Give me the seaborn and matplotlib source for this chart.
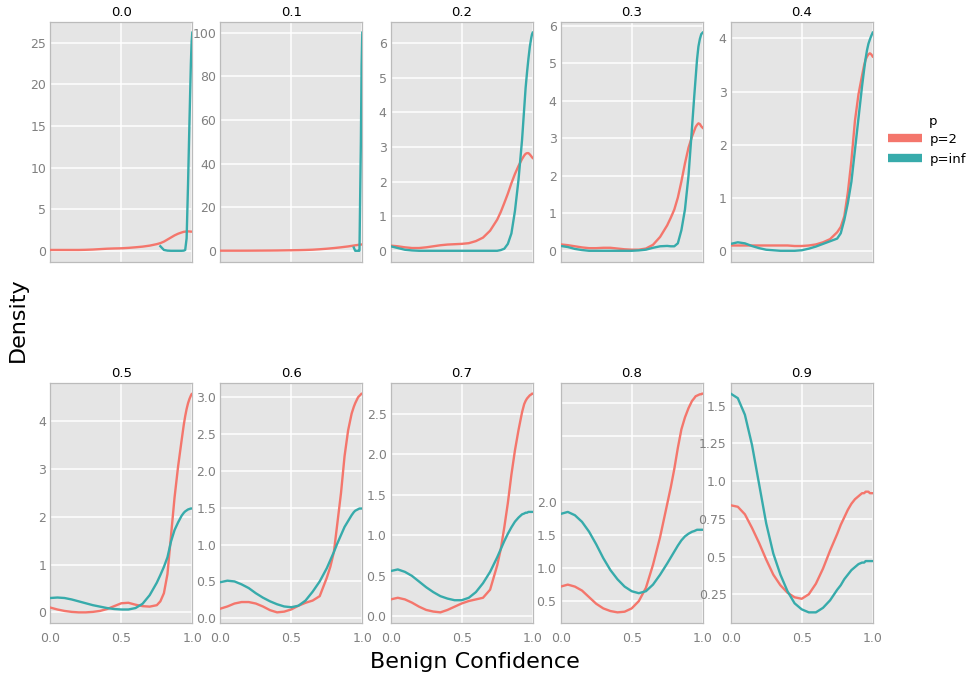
import numpy as np
import pandas as pd
import matplotlib
matplotlib.use("Agg")
import matplotlib.pyplot as plt
import seaborn as sns
from matplotlib.lines import Line2D

NaN = float("nan")

# ---- data (density vs benign confidence) ----
X = [0.0, 0.05, 0.1, 0.15, 0.2, 0.25, 0.3, 0.35, 0.4, 0.45, 0.5, 0.55, 0.6, 0.65,
     0.7, 0.75, 0.775, 0.8, 0.825, 0.85, 0.875, 0.9, 0.925, 0.94, 0.95, 0.96, 0.97,
     0.98, 0.99, 0.995, 1.0]

FACETS = ["0.0", "0.1", "0.2", "0.3", "0.4", "0.5", "0.6", "0.7", "0.8", "0.9"]
SERIES = ["p=2", "p=inf"]

P2_00 = [0.1, 0.1, 0.1, 0.1, 0.1, 0.12, 0.15, 0.2, 0.25, 0.28, 0.3, 0.35, 0.42, 0.5, 0.62,
         0.8, 0.92, 1.1, 1.35, 1.6, 1.85, 2.05, 2.2, 2.28, 2.3, 2.32, 2.33, 2.32, 2.3, 2.3, 2.3]
PINF_00 = [NaN] * 16 + [0.55, 0.1, 0.02, 0.0, 0.0, 0.0, 0.0, 0.02, 0.1, 1.5, 8.0, 15.5, 22.5, 25.0, 26.2]

P2_01 = [0.05, 0.05, 0.05, 0.05, 0.06, 0.08, 0.1, 0.12, 0.15, 0.2, 0.25, 0.3, 0.38, 0.5, 0.7,
         0.95, 1.1, 1.25, 1.42, 1.6, 1.8, 2.0, 2.25, 2.4, 2.5, 2.6, 2.7, 2.8, 2.85, 2.9, 2.9]
PINF_01 = [NaN] * 23 + [1.5, 0.0, 0.0, 0.0, 0.0, 50.0, 85.0, 100.0]

P2_02 = [0.15, 0.13, 0.1, 0.08, 0.08, 0.1, 0.13, 0.16, 0.18, 0.19, 0.2, 0.22, 0.28, 0.38, 0.58,
         0.9, 1.12, 1.38, 1.65, 1.95, 2.22, 2.45, 2.65, 2.75, 2.8, 2.82, 2.82, 2.78, 2.73, 2.7, 2.68]
PINF_02 = [0.13, 0.08, 0.03, 0.01, 0, 0, 0, 0, 0, 0, 0, 0, 0, 0, 0,
           0, 0.02, 0.06, 0.2, 0.5, 1.15, 2.05, 3.2, 4.1, 4.7, 5.15, 5.55, 5.9, 6.15, 6.25, 6.3]

P2_03 = [0.17, 0.15, 0.12, 0.09, 0.07, 0.07, 0.08, 0.08, 0.06, 0.04, 0.03, 0.03, 0.06, 0.16, 0.37,
         0.68, 0.88, 1.1, 1.42, 1.85, 2.33, 2.75, 3.05, 3.2, 3.3, 3.36, 3.4, 3.38, 3.32, 3.3, 3.28]
PINF_03 = [0.13, 0.1, 0.05, 0.02, 0, 0, 0, 0, 0, 0, 0, 0.01, 0.03, 0.08, 0.12,
           0.13, 0.12, 0.12, 0.2, 0.55, 1.1, 2.0, 3.3, 4.1, 4.6, 5.1, 5.45, 5.65, 5.78, 5.8, 5.82]

P2_04 = [0.1, 0.1, 0.1, 0.1, 0.1, 0.1, 0.1, 0.1, 0.1, 0.09, 0.09, 0.1, 0.12, 0.16, 0.22,
         0.35, 0.45, 0.65, 1.1, 1.7, 2.45, 2.95, 3.3, 3.5, 3.6, 3.66, 3.7, 3.72, 3.7, 3.68, 3.66]
PINF_04 = [0.13, 0.16, 0.14, 0.09, 0.05, 0.02, 0.01, 0, 0, 0, 0.01, 0.04, 0.08, 0.13, 0.18,
           0.23, 0.33, 0.58, 0.9, 1.3, 1.9, 2.5, 3.1, 3.42, 3.62, 3.78, 3.9, 3.98, 4.05, 4.08, 4.11]

P2_05 = [0.1, 0.06, 0.03, 0.01, 0, 0, 0.01, 0.03, 0.07, 0.13, 0.19, 0.2, 0.16, 0.13, 0.12,
         0.15, 0.23, 0.4, 0.8, 1.6, 2.4, 3.05, 3.6, 3.92, 4.1, 4.25, 4.37, 4.46, 4.53, 4.56, 4.57]
PINF_05 = [0.3, 0.31, 0.3, 0.27, 0.23, 0.19, 0.15, 0.12, 0.09, 0.07, 0.06, 0.06, 0.09, 0.18, 0.36,
           0.62, 0.78, 0.95, 1.15, 1.48, 1.72, 1.88, 2.02, 2.08, 2.11, 2.13, 2.15, 2.16, 2.17, 2.17, 2.17]

P2_06 = [0.13, 0.16, 0.2, 0.22, 0.22, 0.2, 0.16, 0.11, 0.08, 0.09, 0.12, 0.17, 0.21, 0.24, 0.3,
         0.55, 0.7, 0.9, 1.3, 1.7, 2.2, 2.55, 2.78, 2.87, 2.92, 2.96, 3.0, 3.02, 3.04, 3.05, 3.05]
PINF_06 = [0.49, 0.51, 0.5, 0.46, 0.41, 0.34, 0.28, 0.23, 0.19, 0.16, 0.15, 0.17, 0.24, 0.36, 0.5,
           0.68, 0.79, 0.9, 1.02, 1.13, 1.24, 1.32, 1.4, 1.44, 1.46, 1.47, 1.48, 1.49, 1.49, 1.49, 1.49]

P2_07 = [0.21, 0.23, 0.21, 0.17, 0.12, 0.08, 0.06, 0.05, 0.08, 0.12, 0.16, 0.19, 0.21, 0.23, 0.33,
         0.63, 0.83, 1.1, 1.4, 1.75, 2.05, 2.3, 2.52, 2.62, 2.66, 2.69, 2.71, 2.73, 2.74, 2.75, 2.75]
PINF_07 = [0.56, 0.58, 0.55, 0.5, 0.43, 0.36, 0.3, 0.25, 0.22, 0.2, 0.2, 0.23, 0.3, 0.41, 0.55,
           0.73, 0.83, 0.93, 1.02, 1.1, 1.17, 1.22, 1.26, 1.27, 1.28, 1.28, 1.29, 1.29, 1.29, 1.29, 1.29]

P2_08 = [0.72, 0.75, 0.72, 0.66, 0.56, 0.46, 0.39, 0.35, 0.33, 0.34, 0.39, 0.5, 0.7, 1.05, 1.47,
         1.97, 2.22, 2.5, 2.82, 3.1, 3.28, 3.42, 3.53, 3.57, 3.6, 3.61, 3.62, 3.63, 3.63, 3.64, 3.64]
PINF_08 = [1.82, 1.85, 1.8, 1.7, 1.55, 1.36, 1.15, 0.97, 0.83, 0.72, 0.65, 0.62, 0.65, 0.75, 0.9,
           1.07, 1.16, 1.25, 1.34, 1.42, 1.48, 1.52, 1.55, 1.56, 1.57, 1.58, 1.58, 1.58, 1.58, 1.58, 1.58]

P2_09 = [0.84, 0.83, 0.78, 0.69, 0.59, 0.48, 0.38, 0.31, 0.26, 0.23, 0.22, 0.25, 0.32, 0.42, 0.54,
         0.65, 0.71, 0.76, 0.81, 0.85, 0.88, 0.9, 0.92, 0.92, 0.93, 0.93, 0.93, 0.92, 0.92, 0.92, 0.92]
PINF_09 = [1.58, 1.55, 1.44, 1.24, 0.98, 0.72, 0.52, 0.38, 0.27, 0.19, 0.15, 0.13, 0.13, 0.16, 0.21,
           0.28, 0.31, 0.35, 0.38, 0.41, 0.43, 0.45, 0.46, 0.46, 0.47, 0.47, 0.47, 0.47, 0.47, 0.47, 0.47]

P2 = [P2_00, P2_01, P2_02, P2_03, P2_04, P2_05, P2_06, P2_07, P2_08, P2_09]
PINF = [PINF_00, PINF_01, PINF_02, PINF_03, PINF_04, PINF_05, PINF_06, PINF_07, PINF_08, PINF_09]

# y tick values / labels per facet
YTICKS = [
    [0, 5, 10, 15, 20, 25],
    [0, 20, 40, 60, 80, 100],
    [0, 1, 2, 3, 4, 5, 6],
    [0, 1, 2, 3, 4, 5, 6],
    [0, 1, 2, 3, 4],
    [0, 1, 2, 3, 4],
    [0.0, 0.5, 1.0, 1.5, 2.0, 2.5, 3.0],
    [0.0, 0.5, 1.0, 1.5, 2.0, 2.5],
    [0.5, 1.0, 1.5, 2.0, 2.5, 3.0, 3.5],
    [0.25, 0.5, 0.75, 1.0, 1.25, 1.5],
]
YLABELS = [
    ["0", "5", "10", "15", "20", "25"],
    ["0", "20", "40", "60", "80", "100"],
    ["0", "1", "2", "3", "4", "5", "6"],
    ["0", "1", "2", "3", "4", "5", "6"],
    ["0", "1", "2", "3", "4"],
    ["0", "1", "2", "3", "4"],
    ["0.0", "0.5", "1.0", "1.5", "2.0", "2.5", "3.0"],
    ["0.0", "0.5", "1.0", "1.5", "2.0", "2.5"],
    ["0.5", "1.0", "1.5", "2.0", "", "", ""],
    ["0.25", "0.5", "0.75", "1.0", "1.25", "1.5"],
]
XTICKS = [0.0, 0.5, 1.0]
XLABELS = ["0.0", "0.5", "1.0"]

COLORS = {"p=2": "#F4766C", "p=inf": "#37ABAB"}

# ---- long table ----
rows = []
for f, a, b in zip(FACETS, P2, PINF):
    for x, y in zip(X, a):
        rows.append((f, "p=2", x, y))
    for x, y in zip(X, b):
        rows.append((f, "p=inf", x, y))
df = pd.DataFrame(rows, columns=["facet", "p", "x", "density"]).dropna()

# ---- figure ----
W, H = 969, 675
fig = plt.figure(figsize=(W / 100, H / 100), dpi=100)
plt.rcParams["font.family"] = ["DejaVu Sans"]

lefts = [50.3, 220.3, 390.7, 560.7, 730.7]
pw = 142.0
rows_px = [(21.7, 261.7), (382.7, 623.3)]

for i, f in enumerate(FACETS):
    r, c = divmod(i, 5)
    top, bot = rows_px[r]
    ax = fig.add_axes([lefts[c] / W, 1 - bot / H, pw / W, (bot - top) / H])
    ax.set_facecolor("#E5E5E5")
    sub = df[df["facet"] == f]
    sns.lineplot(data=sub, x="x", y="density", hue="p", hue_order=SERIES,
                 palette=COLORS, estimator=None, sort=True, linewidth=1.7,
                 legend=False, ax=ax, zorder=3)
    lo, hi = sub["density"].min(), sub["density"].max()
    pad = 0.05 * (hi - lo)
    ax.set_ylim(lo - pad, hi + pad)
    ax.set_xlim(0, 1)
    ax.set_yticks(YTICKS[i])
    ax.set_yticklabels(YLABELS[i])
    ax.set_xticks(XTICKS)
    ax.set_xticklabels(XLABELS)
    ax.grid(True, color="white", linewidth=1.1, zorder=0)
    ax.set_axisbelow(True)
    for s in ax.spines.values():
        s.set_color("#BBBBBB")
        s.set_linewidth(0.9)
    ax.tick_params(length=0, labelsize=9, labelcolor="#808080", pad=3)
    if r == 0:
        ax.tick_params(labelbottom=False)
    else:
        ax.tick_params(axis="x", pad=6)
    ax.set_xlabel("")
    ax.set_ylabel("")
    ax.set_title(f, fontsize=9.5, pad=4, color="black")

# legend
handles = [Line2D([], [], color=COLORS[s], lw=6, solid_capstyle="butt") for s in SERIES]
fig.legend(handles, SERIES, loc="upper left", bbox_to_anchor=(888 / W, 1 - 133 / H),
           frameon=False, fontsize=9.5, handlelength=2.6, handletextpad=0.6,
           labelspacing=0.5, borderaxespad=0, borderpad=0)
fig.text(929 / W, 1 - 122 / H, "p", fontsize=9.5, va="center", ha="left")

fig.text(475 / W, 1 - 662 / H, "Benign Confidence", fontsize=16, ha="center", va="center")
fig.text(18 / W, 1 - 320 / H, "Density", fontsize=16, ha="center", va="center", rotation=90)

fig.savefig("out.png", dpi=100)
